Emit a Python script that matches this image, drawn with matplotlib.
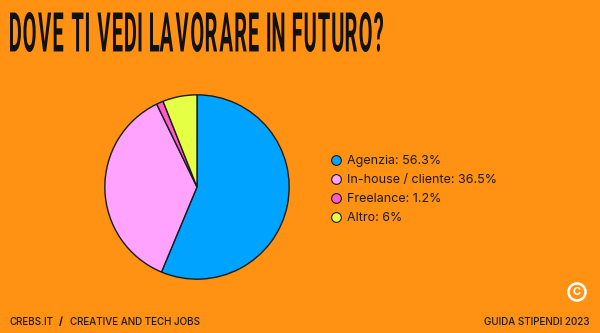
import matplotlib.pyplot as plt
from matplotlib.textpath import TextPath
from matplotlib.patches import PathPatch, Circle
from matplotlib.font_manager import FontProperties
from matplotlib.transforms import Affine2D
from matplotlib.path import Path
from matplotlib.lines import Line2D

# Survey answers
labels = ['Agenzia', 'In-house / cliente', 'Freelance', 'Altro']
shares = [56.3, 36.5, 1.2, 6]
colors = ['#00a3ff', '#ffa3ff', '#ff5ac8', '#e5ff45']

title = 'DOVE TI VEDI LAVORARE IN FUTURO?'
bg = '#ff9212'

W, H = 600, 333
fig = plt.figure(figsize=(6, 3.33), dpi=100, facecolor=bg)
px = Affine2D().scale(1 / W, 1 / H) + fig.transFigure

# condensed title: glyphs laid out one by one with fixed tracking, then squeezed
tprop = FontProperties(family='Roboto', weight='bold')
paths, x = [], 0.0
for ch in title:
    if ch == ' ':
        x += 12
        continue
    g = TextPath((0, 0), ch, size=40, prop=tprop)
    e = g.get_extents()
    paths.append(g.transformed(Affine2D().translate(x - e.x0, 0)))
    x += e.width + (1 if ch == 'L' else 5)
tp = Path.make_compound_path(*paths)
ext = tp.get_extents()
sx = 373 / ext.width
sy = 40 / ext.height
tr = Affine2D().translate(-ext.x0, -ext.y0).scale(sx, sy).translate(10, H - 52)
fig.patches.append(PathPatch(tp, transform=tr + px, facecolor='#111111', edgecolor='none'))

# pie
cx, cy, r = 197, H - 187, 94
ax = fig.add_axes([(cx - r) / W, (cy - r) / H, 2 * r / W, 2 * r / H])
ax.pie(shares, colors=colors, startangle=90, counterclock=False, radius=1,
       wedgeprops=dict(edgecolor='#1a1a1a', linewidth=1.0))
ax.set_xlim(-1.02, 1.02)
ax.set_ylim(-1.02, 1.02)
ax.axis('off')

# legend
handles = [Line2D([], [], marker='o', linestyle='none', markersize=7,
                  markerfacecolor=c, markeredgecolor='#1a1a1a', markeredgewidth=0.8)
           for c in colors]
texts = [f'{l}: {v:g}%' for l, v in zip(labels, shares)]
fig.legend(handles, texts, loc='upper left', bbox_to_anchor=(317 / W, 1 - 144 / H),
           frameon=False, prop=FontProperties(family='Inter', size=9),
           labelspacing=0.55, handletextpad=0.3, handlelength=1.2, labelcolor='#1a1a1a')

# footer
fig.text(10 / W, 1 - 322 / H, 'CREBS.IT', fontsize=7.1, family='Inter', weight='medium',
         color='#1a1a1a', va='center', ha='left')
fig.text(59 / W, 1 - 322 / H, '/', fontsize=7.1, family='Inter', weight='heavy',
         color='#1a1a1a', va='center', ha='left')
fig.text(70 / W, 1 - 322 / H, 'CREATIVE AND TECH JOBS', fontsize=7.1, family='Inter',
         weight='medium', color='#1a1a1a', va='center', ha='left')
fig.text(590 / W, 1 - 322 / H, 'GUIDA STIPENDI 2023', fontsize=7.1, family='Inter',
         weight='medium', color='#1a1a1a', va='center', ha='right')

# copyright badge
fig.patches.append(Circle((577, H - 292), 8.5, transform=px, facecolor='none',
                          edgecolor='white', linewidth=1.8))
fig.text(577 / W, (H - 292) / H, 'C', fontsize=8, family='Inter', weight='bold',
         color='white', ha='center', va='center')

fig.savefig('out.png', dpi=100, facecolor=bg)
